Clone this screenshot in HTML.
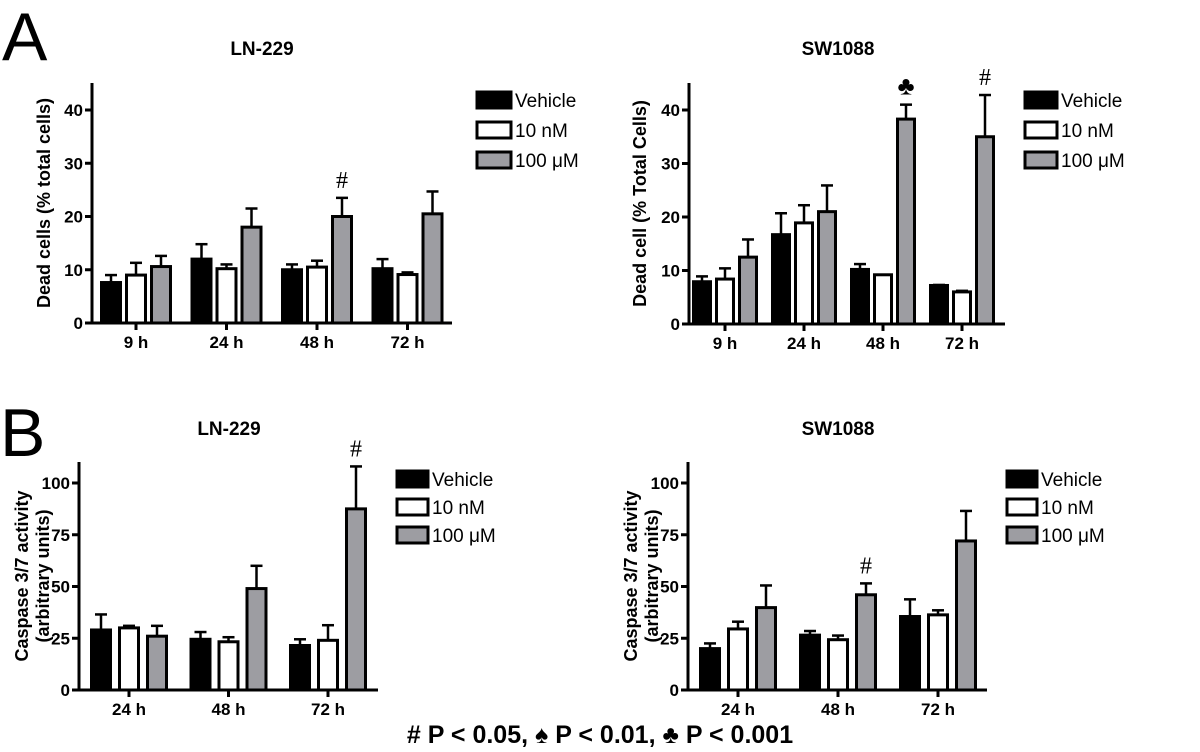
<!DOCTYPE html>
<html><head><meta charset="utf-8"><style>
body{margin:0;background:#fff;}
svg{display:block;font-family:"Liberation Sans",Arial,sans-serif;}
</style></head><body>
<svg id="fig" width="1200" height="752" viewBox="0 0 1200 752">
<text x="2" y="60" font-size="68">A</text>
<text x="0" y="456" font-size="68">B</text>
<text x="600" y="743" font-size="25" font-weight="bold" text-anchor="middle"># P &lt; 0.05, ♠ P &lt; 0.01, ♣ P &lt; 0.001</text>
</svg>
<script>
// Panel A left (LN-229, dead cells)
const aCats = ["9 h","24 h","48 h","72 h"];
const aLVeh = [7.6,12,10,10.2];  const aLVehErr = [1.4,2.8,1,1.8];
const aL10 = [9,10.2,10.5,9.1];  const aL10Err = [2.3,0.8,1.2,0.4];
const aL100 = [10.6,18,20,20.5]; const aL100Err = [2,3.5,3.5,4.2];
const aLMarks = ["","","#",""];
// Panel A right (SW1088, dead cells)
const aRVeh = [7.9,16.7,10.2,7.2]; const aRVehErr = [1,4,1,0.1];
const aR10 = [8.4,18.9,9.2,6.0];   const aR10Err = [2,3.3,0,0.2];
const aR100 = [12.5,21,38.3,35];   const aR100Err = [3.3,4.9,2.7,7.8];
const aRMarks = ["","","♣","#"];
const aTicks = [0,10,20,30,40];
// Panel B (caspase 3/7)
const bCats = ["24 h","48 h","72 h"];
const bLVeh = [29,24.5,21.5];  const bLVehErr = [7.5,3.5,3];
const bL10 = [30,23.3,24];     const bL10Err = [1,2.2,7.3];
const bL100 = [26,49,87.5];    const bL100Err = [5,11,20.5];
const bLMarks = ["","","#"];
const bRVeh = [20,26.5,35.5];  const bRVehErr = [2.5,2,8.3];
const bR10 = [29.5,24.3,36.3]; const bR10Err = [3.5,2,2.2];
const bR100 = [39.8,46,72];    const bR100Err = [10.7,5.5,14.5];
const bRMarks = ["","#",""];
const bTicks = [0,25,50,75,100];

const NS="http://www.w3.org/2000/svg";
const svg=document.getElementById('fig');
function el(tag,attrs,parent){const e=document.createElementNS(NS,tag);for(const k in attrs)e.setAttribute(k,attrs[k]);(parent||svg).appendChild(e);return e;}
const fills=["#000","#fff","#9d9da2"];
const legendNames=["Vehicle","10 nM","100 μM"];

function panel(p){
  const g=el('g',{});
  
  
  const y=v=>p.y0-(v/p.vmax)*(p.y0-p.yTop);
  const t=el('text',{x:p.titleX,y:p.titleY,'font-size':19,'font-weight':'bold','text-anchor':'middle'},g);
  t.textContent=p.title;
  
  
  const yl=el('text',{transform:`translate(${p.ylX},${(p.y0+p.yAxisTop)/2}) rotate(-90)`,'font-size':18,'font-weight':'bold','text-anchor':'middle'},g);
  
  
  p.ylab.forEach((s,i)=>{const ts=el('tspan',{x:0,dy:i===0?(p.ylab.length>1?-2:0):21},yl);ts.textContent=s;});
  const ax=el('path',{d:`M${p.x0},${p.yAxisTop}V${p.y0}H${p.xEnd}`,stroke:'#000','stroke-width':3,fill:'none'},g);
  
  
  p.ticks.forEach(v=>{
    el('line',{x1:p.x0-7,x2:p.x0,y1:y(v),y2:y(v),stroke:'#000','stroke-width':3},g);
    const tt=el('text',{x:p.x0-9,y:y(v)+6,'font-size':17,'font-weight':'bold','text-anchor':'end'},g);
    tt.textContent=v;
    
    
  });
  p.cats.forEach((c,i)=>{
    const cx=p.c0+i*p.step;
    el('line',{x1:cx,x2:cx,y1:p.y0,y2:p.y0+7,stroke:'#000','stroke-width':3},g);
    const ct=el('text',{x:cx,y:p.y0+25,'font-size':17,'font-weight':'bold','text-anchor':'middle'},g);
    ct.textContent=c;
    
    
    p.series.forEach((s,j)=>{
      const bx=cx+(j-1)*p.pitch-p.bw/2;
      const v=s.vals[i], e=s.err[i];
      const top=y(v+e);
      if(e>0){
        el('line',{x1:cx+(j-1)*p.pitch,x2:cx+(j-1)*p.pitch,y1:y(v),y2:top,stroke:'#000','stroke-width':2.5},g);
        el('line',{x1:cx+(j-1)*p.pitch-6,x2:cx+(j-1)*p.pitch+6,y1:top,y2:top,stroke:'#000','stroke-width':2.5},g);
      }
      const r=el('rect',{x:bx,y:y(v),width:p.bw,height:p.y0-y(v),fill:fills[j],stroke:'#000','stroke-width':3},g);
      
      
      if(j===2&&p.marks[i]){
        const m=el('text',{x:cx+(j-1)*p.pitch,y:top-10,'font-size':p.marks[i]==='#'?24:26,'text-anchor':'middle','font-family':'Liberation Serif, serif'},g);
        m.textContent=p.marks[i];
        
        
      }
    });
  });
  legendNames.forEach((n,j)=>{
    const ly=p.legY+j*p.legStep;
    const lr=el('rect',{x:p.legX,y:ly,width:p.legW,height:16,fill:fills[j],stroke:'#000','stroke-width':3},g);
    
    
    const lt=el('text',{x:p.legX+p.legW+4,y:ly+15,'font-size':19},g);
    lt.textContent=n;
    
    
  });
}
panel({name:'chart-a-ln229',title:'LN-229',titleX:262,titleY:55,x0:92,xEnd:452,y0:323,yTop:110,vmax:40,yAxisTop:83,ticks:aTicks,cats:aCats,c0:136,step:90.5,pitch:25,bw:19,ylX:50,ylab:['Dead cells (% total cells)'],
  series:[{key:'vehicle',vals:aLVeh,err:aLVehErr},{key:'10nm',vals:aL10,err:aL10Err},{key:'100um',vals:aL100,err:aL100Err}],marks:aLMarks,legX:477,legY:92,legStep:30,legW:34});
panel({name:'chart-a-sw1088',title:'SW1088',titleX:838,titleY:55,x0:689,xEnd:1005,y0:324,yTop:110,vmax:40,yAxisTop:83,ticks:aTicks,cats:aCats,c0:725,step:79,pitch:23,bw:17,ylX:646,ylab:['Dead cell (% Total Cells)'],
  series:[{key:'vehicle',vals:aRVeh,err:aRVehErr},{key:'10nm',vals:aR10,err:aR10Err},{key:'100um',vals:aR100,err:aR100Err}],marks:aRMarks,legX:1025,legY:92,legStep:30,legW:32});
panel({name:'chart-b-ln229',title:'LN-229',titleX:229,titleY:435,x0:79,xEnd:378,y0:690,yTop:483,vmax:100,yAxisTop:462,ticks:bTicks,cats:bCats,c0:129,step:99.5,pitch:28,bw:19,ylX:30,ylab:['Caspase 3/7 activity','(arbitrary  units)'],
  series:[{key:'vehicle',vals:bLVeh,err:bLVehErr},{key:'10nm',vals:bL10,err:bL10Err},{key:'100um',vals:bL100,err:bL100Err}],marks:bLMarks,legX:397,legY:471,legStep:28,legW:31});
panel({name:'chart-b-sw1088',title:'SW1088',titleX:838,titleY:435,x0:688,xEnd:987,y0:690,yTop:483,vmax:100,yAxisTop:462,ticks:bTicks,cats:bCats,c0:738,step:100,pitch:28,bw:19,ylX:639,ylab:['Caspase 3/7 activity','(arbitrary  units)'],
  series:[{key:'vehicle',vals:bRVeh,err:bRVehErr},{key:'10nm',vals:bR10,err:bR10Err},{key:'100um',vals:bR100,err:bR100Err}],marks:bRMarks,legX:1007,legY:471,legStep:28,legW:30});
</script>
</body></html>
